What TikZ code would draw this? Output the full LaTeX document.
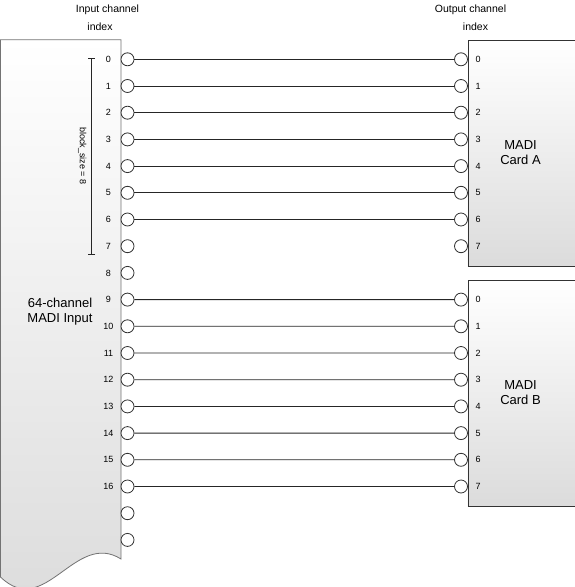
\documentclass[tikz,border=0pt]{standalone}
\usepackage{fontspec}
\setmainfont{Liberation Sans}
\usetikzlibrary{arrows.meta}

\begin{document}
\begin{tikzpicture}[x=1pt,y=-1pt]
\tikzset{port/.style={circle,draw=black!80,fill=white,line width=0.8pt,minimum size=13pt,inner sep=0pt}}
\tikzset{chnum/.style={font=\fontsize{9}{10}\selectfont,inner sep=0pt}}
\tikzset{card/.style={draw=black!80,line width=0.8pt,top color=white,bottom color=black!14,anchor=north west,minimum width=120pt,minimum height=226pt}}
\tikzset{biglabel/.style={font=\fontsize{13}{15}\selectfont,align=center}}
\tikzset{head/.style={font=\fontsize{10.5}{12}\selectfont,inner sep=0pt}}
\tikzset{wire/.style={draw=black!85,line width=0.8pt}}
\useasboundingbox (0,0) rectangle (574,587);
% input block
\shade[top color=white,bottom color=black!14,draw=black!55,line width=0.8pt]
  (0.5,39.7) -- (121,39.7) -- (121,559) .. controls (75,530) and (45,620) .. (0.5,577) -- cycle;
\node[biglabel] (madiin) at (60,312) {64-channel\\MADI Input};
% output cards
\node[card] (cardA) at (467.5,40) {};
\node[card] (cardB) at (467.5,280) {};
\node[biglabel] (cardAlabel) at (520.5,153) {MADI\\Card A};
\node[biglabel] (cardBlabel) at (520.5,393) {MADI\\Card B};
% headings
\node[head] (inhead) at (107.5,10) {Input channel};
\node[head] (inindex) at (100,27) {index};
\node[head] (outhead) at (470.5,10) {Output channel};
\node[head] (outindex) at (475.5,27) {index};
% block size bracket
\coordinate (bstart) at (91.7,58.3);
\coordinate (bstop) at (91.7,254.3);
\draw[wire,{Bar[width=7pt]}-{Bar[width=7pt]}] (bstart) -- (bstop);
\node[chnum,rotate=-90] (blocklabel) at (82.3,156) {block\_size = 8};
% ports
\foreach \i in {0,...,18} {
  \node[port] (in\i) at (127.5,59.3+26.7*\i) {};
}
\foreach \i in {0,...,16} {
  \node[chnum] (innum\i) at (108.5,59.3+26.7*\i) {\i};
}
\foreach \i in {0,...,7} {
  \node[port] (a\i) at (461,59.3+26.7*\i) {};
  \node[chnum] (anum\i) at (478,59.3+26.7*\i) {\i};
  \node[port] (b\i) at (461,299.6+26.7*\i) {};
  \node[chnum] (bnum\i) at (478,299.6+26.7*\i) {\i};
}
% connections
\foreach \i in {0,...,6}
  \draw[wire] (in\i) -- (a\i);
\foreach \i [evaluate=\i as \j using int(\i+9)] in {0,...,7}
  \draw[wire] (in\j) -- (b\i);
\end{tikzpicture}
\end{document}
